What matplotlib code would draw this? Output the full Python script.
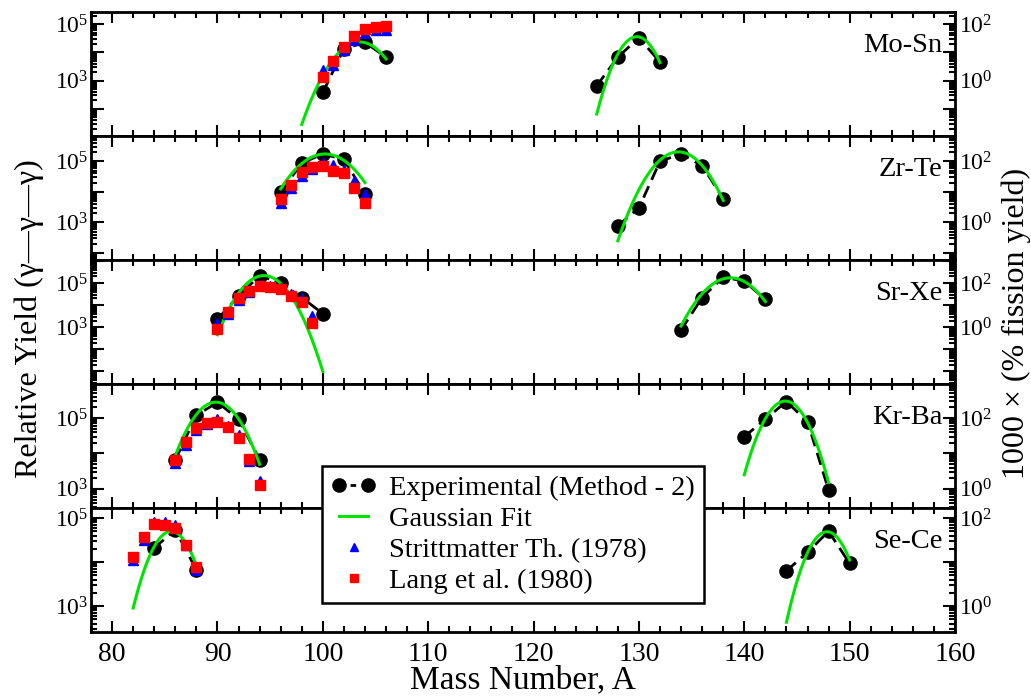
import numpy as np
import matplotlib
matplotlib.use("Agg")
import matplotlib.pyplot as plt
from matplotlib.ticker import LogLocator, FuncFormatter, MultipleLocator
from matplotlib.lines import Line2D
from matplotlib.legend_handler import HandlerLine2D

plt.rcParams['font.family'] = ['Liberation Serif', 'DejaVu Serif']
plt.rcParams['mathtext.fontset'] = 'custom'
plt.rcParams['mathtext.rm'] = 'Liberation Serif'
plt.rcParams['mathtext.it'] = 'Liberation Serif:italic'

# ---------------- data ----------------
pairs = ["Mo-Sn", "Zr-Te", "Sr-Xe", "Kr-Ba", "Se-Ce"]

# experimental yields (Method - 2), light fragment
light_A = [[100, 102, 104, 106],
           [96, 98, 100, 102, 104],
           [90, 92, 94, 96, 98, 100],
           [86, 88, 90, 92, 94],
           [84, 86, 88]]
light_exp = [[3.8e2, 1.35e4, 2.24e4, 6.8e3],
             [1.0e4, 8.7e4, 1.74e5, 1.15e5, 8.7e3],
             [2.3e3, 2.6e4, 2.2e5, 1.0e5, 2.2e4, 4.1e3],
             [6.6e3, 1.2e5, 2.75e5, 9.3e4, 6.6e3],
             [2.1e4, 5.4e4, 6.6e3]]

# experimental yields, heavy partner
heavy_A = [[126, 128, 130, 132],
           [128, 130, 132, 134, 136, 138],
           [134, 136, 138, 140, 142],
           [140, 142, 144, 146, 148],
           [144, 146, 148, 150]]
heavy_exp = [[6.6e2, 6.8e3, 3.3e4, 4.5e3],
             [7.8e2, 3.0e3, 1.0e5, 1.74e5, 7.2e4, 6.0e3],
             [7.4e2, 2.2e4, 1.86e5, 1.23e5, 1.8e4],
             [2.95e4, 9.3e4, 2.9e5, 7.9e4, 9.3e2],
             [6.3e3, 1.66e4, 5.0e4, 9.3e3]]

# literature values for the light fragments
lit_A = [[100, 101, 102, 103, 104, 105, 106],
         [96, 97, 98, 99, 100, 101, 102, 103, 104],
         [90, 91, 92, 93, 94, 95, 96, 97, 98, 99],
         [86, 87, 88, 89, 90, 91, 92, 93, 94],
         [82, 83, 84, 85, 86, 87, 88]]
strittmatter = [[2.3e3, 3.5e3, 1.2e4, 2.7e4, 4.7e4, 6.2e4, 6.2e4],
                [4.2e3, 1.32e4, 3.3e4, 5.6e4, 8.9e4, 7.6e4, 5.2e4, 2.2e4, 8.3e3],
                [1.55e3, 4.0e3, 1.7e4, 4.0e4, 7.9e4, 7.1e4, 6.3e4, 3.2e4, 2.0e4, 3.1e3],
                [5.2e3, 1.7e4, 4.5e4, 6.6e4, 9.3e4, 6.0e4, 3.3e4, 6.3e3, 1.66e3],
                [1.12e4, 3.2e4, 8.3e4, 8.3e4, 7.1e4, 2.5e4, 6.6e3]]
lang = [[1.3e3, 5.1e3, 1.6e4, 3.8e4, 6.6e4, 7.9e4, 8.7e4],
        [5.8e3, 1.74e4, 4.4e4, 6.3e4, 7.2e4, 5.0e4, 4.1e4, 1.38e4, 4.4e3],
        [8.3e2, 4.7e3, 2.0e4, 4.3e4, 7.1e4, 6.6e4, 5.6e4, 2.6e4, 1.32e4, 1.55e3],
        [6.6e3, 2.1e4, 5.1e4, 7.1e4, 7.6e4, 5.6e4, 2.7e4, 7.1e3, 1.29e3],
        [1.32e4, 3.8e4, 7.2e4, 6.9e4, 6.0e4, 2.45e4, 7.8e3]]

# Gaussian fit parameters: (peak, centroid, sigma, A start, A end)
fit_light = [(2.34e4, 103.5, 1.50, 98, 106),
             (1.74e5, 100.2, 1.83, 96, 104),
             (2.2e5, 94.4, 1.25, 90, 100),
             (2.8e5, 89.85, 1.46, 86, 94),
             (5.0e4, 85.6, 1.27, 82, 88)]
fit_heavy = [(3.6e4, 129.8, 1.07, 126, 132),
             (2.04e5, 133.75, 1.57, 128, 138),
             (1.74e5, 138.7, 1.48, 134, 142),
             (3.0e5, 143.9, 1.26, 140, 148),
             (4.9e4, 147.85, 1.25, 144, 150)]

# y range of each panel (log10)
ylims = [(1.04, 5.43), (1.77, 5.83), (0.42, 6.05), (2.46, 5.96), (2.41, 5.23)]

green = '#00e400'


def gauss_curve(p):
    peak, mu, sig, a0, a1 = p
    a = np.linspace(a0, a1, 200)
    return a, peak * np.exp(-(a - mu) ** 2 / (2 * sig ** 2))


def left_fmt(v, pos):
    e = int(round(np.log10(v)))
    return f"$10^{{{e}}}$" if e in (3, 5) else ""


def right_fmt(v, pos):
    e = int(round(np.log10(v)))
    return f"$10^{{{e}}}$" if e in (0, 2) else ""


fig = plt.figure(figsize=(10.31, 6.96), dpi=100)
gs = fig.add_gridspec(5, 1, left=0.0883, right=0.9263, top=0.9828, bottom=0.092, hspace=0)

axes = []
for i, name in enumerate(pairs):
    ax = fig.add_subplot(gs[i], sharex=axes[0] if axes else None)
    axes.append(ax)
    ax.set_yscale('log')
    lo, hi = ylims[i]
    ax.set_ylim(10 ** lo, 10 ** hi)

    for A, Y in ((light_A[i], light_exp[i]), (heavy_A[i], heavy_exp[i])):
        ax.plot(A, Y, color='black', ls=(0, (4.5, 2.5)), lw=2, marker='o', ms=9.5, zorder=3)
    for p in (fit_light[i], fit_heavy[i]):
        a, g = gauss_curve(p)
        ax.plot(a, g, color=green, lw=2.2, zorder=4)
    ax.plot(lit_A[i], strittmatter[i], ls='none', marker='^', ms=7, color='#0000ff', zorder=5)
    ax.plot(lit_A[i], lang[i], ls='none', marker='s', ms=6.5, color='#ff0000', zorder=6)

    ax.text(0.985, 0.73, name, transform=ax.transAxes, ha='right', va='center', fontsize=20.5)

    ax.set_xlim(78, 160)
    ax.xaxis.set_major_locator(MultipleLocator(10))
    ax.xaxis.set_minor_locator(MultipleLocator(2))
    ax.tick_params(axis='x', which='both', direction='in', top=True, bottom=True, width=1.5)
    ax.tick_params(axis='x', which='major', length=8, labelsize=20, pad=7)
    ax.tick_params(axis='x', which='minor', length=4)
    if i < 4:
        ax.tick_params(axis='x', labelbottom=False)

    ax.yaxis.set_major_locator(LogLocator(base=10, numticks=20))
    ax.yaxis.set_minor_locator(LogLocator(base=10, subs=np.arange(2, 10), numticks=20))
    ax.yaxis.set_major_formatter(FuncFormatter(left_fmt))
    ax.tick_params(axis='y', which='both', direction='in', width=1.5)
    ax.tick_params(axis='y', which='major', length=9, labelsize=17, pad=2)
    ax.tick_params(axis='y', which='minor', length=4)

    for s in ax.spines.values():
        s.set_linewidth(2)

    rax = ax.twinx()
    rax.set_yscale('log')
    rax.set_ylim(10 ** lo / 1000, 10 ** hi / 1000)
    rax.yaxis.set_major_locator(LogLocator(base=10, numticks=20))
    rax.yaxis.set_minor_locator(LogLocator(base=10, subs=np.arange(2, 10), numticks=20))
    rax.yaxis.set_major_formatter(FuncFormatter(right_fmt))
    rax.tick_params(axis='y', which='both', direction='in', width=1.5)
    rax.tick_params(axis='y', which='major', length=9, labelsize=17, pad=3)
    rax.tick_params(axis='y', which='minor', length=4)

fig.text(0.507, 0.011, "Mass Number, A", ha='center', va='baseline', fontsize=24)

fig.text(0.028, 0.542, "Relative Yield (\u03b3\u2014\u03b3\u2014\u03b3)", rotation=90,
         ha='center', va='center', fontsize=23)
fig.text(0.986, 0.536, "1000 \u00d7 (% fission yield)", rotation=90,
         ha='center', va='center', fontsize=23)

handles = [
    Line2D([], [], color='black', ls=(0, (2, 2)), lw=2, marker='o', ms=9.5),
    Line2D([], [], color=green, lw=2.2),
    Line2D([], [], color='#0000ff', ls='none', marker='^', ms=6),
    Line2D([], [], color='#ff0000', ls='none', marker='s', ms=5.5),
]
labels = ["Experimental (Method - 2)", "Gaussian Fit", "Strittmatter Th. (1978)", "Lang et al. (1980)"]
leg = fig.legend(handles, labels, loc='upper left', bbox_to_anchor=(0.312, 0.3305),
                 borderaxespad=0, fontsize=20.5, frameon=True, fancybox=False,
                 framealpha=1.0, edgecolor='black', handlelength=1.6, handletextpad=0.45,
                 labelspacing=0.18, borderpad=0.32, numpoints=2,
                 handler_map={handles[2]: HandlerLine2D(numpoints=1),
                              handles[3]: HandlerLine2D(numpoints=1)})
leg.get_frame().set_linewidth(1.8)
leg.set_zorder(10)

fig.savefig("out.png", dpi=100)
